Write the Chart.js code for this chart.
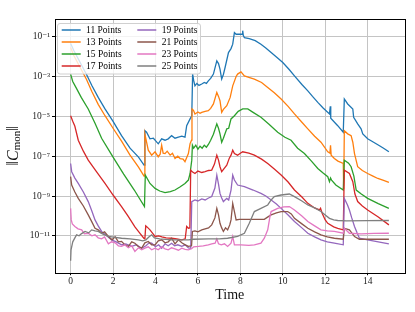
<!DOCTYPE html>
<html>
<head>
<meta charset="utf-8">
<script src="https://cdn.jsdelivr.net/npm/chart.js@4.4.1/dist/chart.umd.min.js"></script>
<style>
html,body{margin:0;padding:0;background:#fff;}
canvas{display:block;}
</style>
</head>
<body>
<canvas id="c" width="415" height="312" style="width:415px;height:312px"></canvas>
<script>
// ---- DATA (times and log10 of ||C_mon||) ----
const seriesLabels = ['11 Points','13 Points','15 Points','17 Points','19 Points','21 Points','23 Points','25 Points'];
const xTickValues = [0,2,4,6,8,10,12,14];
const yTickExponents = [-11,-9,-7,-5,-3,-1];

const t11 = [0,0.15,0.3,0.5,0.75,1.0,1.3,1.62,2.0,2.4,2.8,3.2,3.46,3.5,3.58,3.74,3.9,4.0,4.13,4.29,4.45,4.6,4.76,4.92,5.08,5.24,5.39,5.47,5.63,5.71,5.75,5.8,5.86,5.95,6.05,6.18,6.3,6.4,6.49,6.6,6.73,6.89,6.97,7.04,7.12,7.2,7.28,7.44,7.56,7.64,7.72,7.8,8.03,8.08,8.11,8.14,8.19,8.42,8.7,8.97,9.2,9.45,9.7,10.0,10.3,10.55,10.9,11.18,11.4,11.65,11.9,12.2,12.22,12.24,12.26,12.59,12.85,12.9,13.06,13.3,13.34,13.53,13.69,13.77,14.0,14.2,14.48,14.75,15.0];
const e11 = [-1.35,-1.7,-2.0,-2.4,-2.9,-3.45,-4.05,-4.63,-5.25,-5.97,-6.6,-7.05,-7.45,-5.72,-5.8,-6.13,-6.1,-6.22,-6.38,-6.13,-6.2,-6.13,-5.97,-6.1,-6.05,-6.0,-6.05,-5.47,-5.13,-4.97,-2.88,-3.2,-3.47,-3.35,-3.45,-3.38,-3.3,-3.35,-3.22,-3.1,-2.88,-2.22,-2.35,-2.63,-3.13,-2.9,-2.55,-1.8,-1.6,-1.38,-0.8,-0.88,-0.88,-0.88,-0.7,-0.95,-1.05,-1.1,-1.2,-1.38,-1.57,-1.8,-2.02,-2.3,-2.65,-2.97,-3.4,-3.72,-4.0,-4.3,-4.58,-4.88,-4.88,-4.5,-5.1,-5.47,-5.8,-4.13,-4.38,-4.63,-5.05,-5.38,-5.63,-5.88,-6.13,-6.25,-6.43,-6.6,-6.78];

const t13 = [0,0.15,0.3,0.5,0.75,1.0,1.3,1.62,2.0,2.4,2.8,3.2,3.46,3.5,3.58,3.66,3.82,3.98,4.13,4.22,4.29,4.36,4.45,4.55,4.69,4.8,4.92,5.05,5.16,5.3,5.39,5.55,5.63,5.7,5.72,5.79,5.86,6.0,6.1,6.18,6.34,6.49,6.6,6.73,6.89,6.97,7.04,7.12,7.2,7.36,7.52,7.64,7.8,7.87,8.03,8.19,8.4,8.66,9.0,9.29,9.6,9.92,10.25,10.55,10.9,11.18,11.5,11.8,12.12,12.22,12.25,12.28,12.43,12.6,12.85,12.87,12.9,13.06,13.22,13.3,13.38,13.53,13.75,14.0,14.25,14.48,14.75,15.0];
const e13 = [-1.55,-1.95,-2.25,-2.65,-3.15,-3.75,-4.4,-4.97,-5.6,-6.25,-6.95,-7.55,-8.0,-5.9,-6.3,-6.7,-6.95,-6.78,-7.03,-6.9,-6.45,-6.85,-6.87,-6.75,-6.95,-6.85,-7.12,-7.0,-7.12,-7.15,-7.28,-6.87,-6.37,-6.2,-4.63,-4.7,-4.88,-4.78,-4.85,-4.8,-4.75,-4.72,-4.6,-4.38,-3.8,-4.0,-4.22,-4.8,-4.65,-4.47,-4.05,-3.47,-3.0,-2.88,-2.77,-2.97,-3.05,-3.13,-3.3,-3.55,-3.82,-4.13,-4.5,-4.88,-5.3,-5.63,-6.0,-6.3,-6.78,-6.85,-6.45,-6.95,-7.12,-7.25,-7.37,-8.65,-5.72,-5.88,-5.97,-6.3,-6.87,-7.53,-7.72,-7.87,-8.0,-8.12,-8.22,-8.32];

const t15 = [0,0.1,0.25,0.5,0.83,1.15,1.46,2.0,2.5,3.0,3.48,3.52,3.74,3.98,4.2,4.45,4.7,4.92,5.15,5.39,5.55,5.63,5.71,5.74,5.8,5.9,6.0,6.1,6.2,6.3,6.4,6.5,6.6,6.73,6.89,6.97,7.04,7.12,7.2,7.36,7.45,7.56,7.72,7.9,8.11,8.35,8.6,8.97,9.35,9.76,10.1,10.39,10.7,11.02,11.35,11.65,11.9,12.12,12.2,12.25,12.3,12.5,12.85,12.9,13.1,13.22,13.35,13.46,13.7,14.0,14.5,15.0];
const e15 = [-2.88,-3.25,-3.55,-4.05,-4.63,-5.35,-6.1,-7.05,-7.9,-8.7,-9.53,-7.95,-8.37,-8.62,-8.75,-8.83,-8.78,-8.7,-8.55,-8.37,-8.2,-7.87,-7.2,-6.45,-6.6,-6.45,-6.65,-6.5,-6.6,-6.45,-6.55,-6.4,-6.2,-5.9,-5.38,-5.6,-5.88,-6.3,-6.1,-5.63,-5.6,-5.13,-4.97,-4.75,-4.63,-4.63,-4.8,-5.05,-5.4,-5.8,-6.05,-6.2,-6.6,-6.87,-7.25,-7.62,-7.85,-8.03,-8.28,-8.1,-8.2,-8.45,-8.7,-7.2,-7.35,-7.53,-8.0,-8.7,-8.9,-9.12,-9.38,-9.62];

const t17 = [0,0.1,0.2,0.36,0.6,0.83,1.2,1.62,2.0,2.4,2.7,3.03,3.25,3.45,3.5,3.54,3.6,3.74,3.85,3.98,4.15,4.3,4.5,4.76,5.0,5.24,5.4,5.47,5.55,5.62,5.66,5.75,5.86,6.0,6.18,6.34,6.5,6.65,6.78,6.89,6.97,7.04,7.12,7.25,7.36,7.48,7.56,7.64,7.72,7.87,8.0,8.11,8.4,8.66,9.0,9.29,9.6,9.92,10.25,10.55,10.9,11.18,11.5,11.73,11.78,11.85,12.0,12.12,12.4,12.59,12.85,12.9,13.14,13.3,13.4,13.53,13.75,14.0,14.5,15.0];
const e17 = [-4.97,-5.25,-5.5,-6.2,-6.75,-7.2,-7.75,-8.37,-8.95,-9.53,-10.0,-10.55,-10.85,-11.12,-11.15,-10.5,-10.55,-10.7,-10.85,-11.03,-11.0,-11.05,-11.1,-11.12,-11.15,-11.2,-11.15,-10.53,-10.62,-10.6,-7.7,-7.8,-7.87,-7.75,-7.82,-7.78,-7.72,-7.7,-7.4,-6.95,-7.2,-7.53,-7.78,-7.6,-7.45,-7.1,-6.95,-6.7,-6.87,-6.95,-6.85,-6.78,-6.85,-6.95,-7.15,-7.37,-7.65,-7.95,-8.3,-8.7,-9.05,-9.37,-9.6,-9.7,-9.62,-9.85,-10.2,-10.37,-10.55,-10.62,-10.7,-7.7,-7.87,-8.28,-8.9,-9.28,-9.5,-9.7,-10.05,-10.45];

const t19 = [0,0.05,0.2,0.36,0.6,0.83,1.0,1.15,1.3,1.46,1.7,1.93,2.15,2.4,2.6,2.88,3.1,3.35,3.55,3.7,3.82,4.0,4.15,4.29,4.45,4.6,4.76,4.9,5.05,5.24,5.4,5.55,5.66,5.71,5.86,6.0,6.18,6.34,6.5,6.65,6.8,6.89,6.97,7.04,7.12,7.2,7.36,7.45,7.56,7.64,7.72,7.87,8.19,8.6,8.97,9.2,9.45,9.7,9.92,10.25,10.55,10.9,11.18,11.5,11.8,12.1,12.43,12.85,12.9,13.05,13.14,13.25,13.38,13.5,13.61,14.0,14.5,15.0];
const e19 = [-7.37,-7.78,-8.1,-8.37,-8.8,-9.28,-9.75,-10.2,-10.5,-10.78,-11.0,-11.2,-11.3,-11.45,-11.4,-11.53,-11.45,-11.62,-11.5,-11.35,-11.37,-11.55,-11.45,-11.62,-11.4,-11.5,-11.37,-11.5,-11.45,-11.53,-11.45,-11.6,-11.62,-9.28,-9.2,-9.25,-9.15,-9.2,-9.1,-9.03,-8.6,-7.95,-8.4,-8.87,-9.1,-9.28,-9.12,-9.2,-8.7,-7.95,-8.2,-8.45,-8.53,-8.7,-8.87,-9.0,-9.2,-9.4,-9.62,-9.95,-10.28,-10.6,-10.87,-11.05,-11.2,-11.3,-11.37,-11.45,-9.12,-9.45,-9.7,-10.1,-10.53,-10.85,-11.12,-11.2,-11.3,-11.4];

const t21 = [0,0.05,0.2,0.36,0.6,0.83,1.0,1.15,1.3,1.46,1.6,1.78,1.95,2.1,2.25,2.4,2.55,2.72,2.88,3.03,3.2,3.35,3.5,3.66,3.82,3.98,4.13,4.29,4.45,4.6,4.76,4.92,5.08,5.24,5.4,5.55,5.7,5.74,5.86,6.0,6.18,6.34,6.5,6.65,6.8,6.89,6.97,7.04,7.12,7.2,7.3,7.4,7.5,7.56,7.64,7.72,7.8,7.95,8.35,8.8,9.13,9.3,9.45,9.7,9.92,10.23,10.4,10.55,10.9,11.18,11.5,11.8,12.1,12.43,12.85,12.9,13.14,13.25,13.38,13.61,14.0,14.5,15.0];
const e21 = [-8.03,-8.45,-8.8,-9.12,-9.5,-9.95,-10.3,-10.62,-10.7,-10.87,-10.8,-11.03,-11.2,-11.05,-11.3,-11.28,-11.45,-11.53,-11.3,-11.37,-11.55,-11.62,-11.35,-11.28,-11.45,-11.45,-11.25,-11.2,-11.35,-11.3,-11.12,-11.4,-11.2,-11.35,-11.45,-11.53,-11.5,-10.78,-10.75,-10.8,-10.7,-10.65,-10.6,-10.45,-10.1,-9.62,-9.95,-10.37,-10.6,-10.78,-10.6,-10.7,-10.45,-10.2,-9.37,-9.78,-10.2,-10.17,-10.17,-10.17,-10.17,-10.05,-9.95,-9.85,-9.78,-9.78,-9.9,-10.12,-10.4,-10.62,-10.8,-10.95,-11.05,-11.12,-11.17,-10.62,-10.7,-10.85,-11.03,-11.17,-11.17,-11.17,-11.17];

const t23 = [0,0.03,0.08,0.2,0.35,0.52,0.65,0.83,1.0,1.15,1.3,1.46,1.6,1.78,1.93,2.1,2.25,2.4,2.55,2.72,2.88,3.03,3.2,3.35,3.5,3.66,3.82,3.98,4.13,4.29,4.45,4.6,4.76,4.92,5.08,5.24,5.4,5.55,5.7,5.8,6.02,6.25,6.49,6.65,6.81,6.89,6.97,7.1,7.25,7.4,7.56,7.64,7.72,8.03,8.4,8.66,8.97,9.13,9.29,9.4,9.45,9.76,10.05,10.31,10.55,10.9,11.18,11.5,11.8,12.1,12.43,12.85,12.9,13.14,13.69,14.3,15.0];
const e23 = [-9.62,-10.2,-10.4,-10.53,-10.65,-10.7,-10.9,-10.87,-11.0,-10.95,-11.1,-11.15,-11.05,-11.4,-11.3,-11.35,-11.5,-11.53,-11.45,-11.6,-11.5,-11.78,-11.6,-11.7,-11.62,-11.55,-11.7,-11.62,-11.7,-11.55,-11.65,-11.7,-11.6,-11.65,-11.72,-11.62,-11.68,-11.7,-11.65,-11.55,-11.53,-11.5,-11.45,-11.4,-11.37,-11.15,-11.4,-11.45,-11.4,-11.53,-11.37,-11.03,-11.45,-11.45,-11.48,-11.45,-11.37,-11.12,-10.7,-10.0,-9.78,-9.62,-9.55,-9.53,-9.7,-10.0,-10.28,-10.5,-10.7,-10.75,-10.78,-10.87,-10.62,-10.87,-10.9,-10.88,-10.87];

const t25 = [0,0.02,0.1,0.2,0.28,0.4,0.5,0.68,0.85,0.99,1.15,1.3,1.5,1.78,2.1,2.4,2.8,3.19,3.4,3.55,3.7,3.82,3.95,4.2,4.76,5.2,5.55,5.79,6.5,7.0,7.4,7.87,8.19,8.42,8.66,8.97,9.29,9.45,9.6,9.92,10.31,10.55,10.9,11.18,11.5,11.8,12.0,12.2,12.4,12.59,13.0,14.0,15.0];
const e25 = [-12.25,-11.7,-11.3,-11.1,-10.95,-11.0,-10.9,-10.78,-10.85,-10.7,-10.75,-10.78,-10.9,-11.03,-11.08,-11.12,-11.15,-11.2,-11.25,-11.2,-11.05,-10.95,-11.1,-11.15,-11.2,-11.2,-11.2,-11.17,-11.15,-11.15,-11.12,-11.03,-10.87,-10.37,-9.78,-9.62,-9.45,-9.2,-9.03,-8.95,-8.9,-9.03,-9.25,-9.45,-9.6,-9.78,-9.95,-10.12,-10.2,-10.23,-10.25,-10.24,-10.23];

const seriesTimes = [t11,t13,t15,t17,t19,t21,t23,t25];
const seriesExps  = [e11,e13,e15,e17,e19,e21,e23,e25];

// ---- STYLE ----
const colors = ['#1f77b4','#ff7f0e','#2ca02c','#d62728','#9467bd','#8c564b','#e377c2','#7f7f7f'];
const FONT = "'Liberation Serif','DejaVu Serif',serif";
const SUP = {'0':'⁰','1':'¹','2':'²','3':'³','4':'⁴','5':'⁵','6':'⁶','7':'⁷','8':'⁸','9':'⁹','-':'⁻'};

const datasets = seriesLabels.map((lab, i) => ({
  label: lab,
  data: seriesTimes[i].map((t, k) => ({x: t, y: Math.pow(10, seriesExps[i][k])})),
  borderColor: colors[i],
  backgroundColor: colors[i],
  borderWidth: 1.3,
  pointRadius: 0,
  tension: 0,
  fill: false,
  order: seriesLabels.length - i
}));

const decorPlugin = {
  id: 'decor',
  afterDatasetsDraw(chart) {
    const {ctx, chartArea: a} = chart;
    ctx.save();
    ctx.strokeStyle = '#000';
    ctx.lineWidth = 1;
    ctx.strokeRect(Math.round(a.left) + 0.5, Math.round(a.top) + 0.5, Math.round(a.right - a.left) - 1, Math.round(a.bottom - a.top));
    ctx.restore();
  },
  afterDraw(chart) {
    const ctx = chart.ctx;
    // legend
    ctx.save();
    const bx = 57.5, by = 23.5, bw = 143, bh = 50.5, r = 2.5;
    ctx.beginPath();
    ctx.moveTo(bx + r, by);
    ctx.lineTo(bx + bw - r, by); ctx.quadraticCurveTo(bx + bw, by, bx + bw, by + r);
    ctx.lineTo(bx + bw, by + bh - r); ctx.quadraticCurveTo(bx + bw, by + bh, bx + bw - r, by + bh);
    ctx.lineTo(bx + r, by + bh); ctx.quadraticCurveTo(bx, by + bh, bx, by + bh - r);
    ctx.lineTo(bx, by + r); ctx.quadraticCurveTo(bx, by, bx + r, by);
    ctx.closePath();
    ctx.fillStyle = 'rgba(255,255,255,0.8)';
    ctx.fill();
    ctx.strokeStyle = '#d0d0d0';
    ctx.lineWidth = 1;
    ctx.stroke();
    const colX = [61.7, 137.3], txtX = [86, 161.7], rowY = [30, 42, 54, 66];
    ctx.font = '9.5px ' + FONT;
    ctx.textBaseline = 'middle';
    ctx.textAlign = 'left';
    chart.data.datasets.forEach((ds, i) => {
      const c = Math.floor(i / 4), rr = i % 4;
      ctx.strokeStyle = ds.borderColor;
      ctx.lineWidth = 1.5;
      ctx.beginPath();
      ctx.moveTo(colX[c], rowY[rr]);
      ctx.lineTo(colX[c] + 19, rowY[rr]);
      ctx.stroke();
      ctx.fillStyle = '#000';
      ctx.fillText(ds.label, txtX[c], rowY[rr] + 0.5);
    });
    ctx.restore();
    // y-axis title ||C_mon||
    ctx.save();
    const a = chart.chartArea;
    ctx.translate(14, (a.top + a.bottom) / 2);
    ctx.rotate(-Math.PI / 2);
    const parts = [
      {t: '‖', f: '16px ' + FONT, dy: 0},
      {t: 'C', f: 'italic 16px ' + FONT, dy: 0},
      {t: 'mon', f: '11px ' + FONT, dy: 3.5},
      {t: '‖', f: '16px ' + FONT, dy: 0}
    ];
    let total = 0;
    parts.forEach(p => { ctx.font = p.f; p.w = ctx.measureText(p.t).width; total += p.w; });
    let x = -total / 2;
    ctx.fillStyle = '#111';
    ctx.textBaseline = 'middle';
    ctx.textAlign = 'left';
    parts.forEach(p => { ctx.font = p.f; ctx.fillText(p.t, x, p.dy); x += p.w; });
    ctx.restore();
  }
};

new Chart(document.getElementById('c').getContext('2d'), {
  type: 'line',
  data: {datasets},
  options: {
    responsive: false,
    animation: false,
    devicePixelRatio: 1,
    layout: {padding: {left: 0, right: 10, top: 19, bottom: 0}},
    plugins: {legend: {display: false}, tooltip: {enabled: false}},
    scales: {
      x: {
        type: 'linear',
        min: -0.76, max: 15.76,
        afterBuildTicks: s => { s.ticks = xTickValues.map(v => ({value: v})); },
        afterFit: s => { s.height = 39.3; },
        grid: {color: '#c4c4c4', lineWidth: 1, tickColor: '#000', tickLength: 2.5},
        border: {display: false},
        ticks: {font: {family: FONT, size: 9.5}, color: '#222', padding: 1, maxRotation: 0, callback: v => String(v)},
        title: {display: true, text: 'Time', font: {family: FONT, size: 14}, color: '#111', padding: {top: 0, bottom: 8}}
      },
      y: {
        type: 'logarithmic',
        min: Math.pow(10, -12.85), max: Math.pow(10, -0.115),
        afterBuildTicks: s => { s.ticks = yTickExponents.map(e => ({value: Math.pow(10, e)})); },
        afterFit: s => { s.width = 54.5; },
        grid: {color: '#c4c4c4', lineWidth: 1, tickColor: '#000', tickLength: 2.5},
        border: {display: false},
        ticks: {
          font: {family: FONT, size: 9.5}, color: '#222', padding: 2,
          callback: v => { const e = Math.round(Math.log10(v)); return '10' + String(e).split('').map(ch => SUP[ch]).join(''); }
        }
      }
    }
  },
  plugins: [decorPlugin]
});
</script>
</body>
</html>
